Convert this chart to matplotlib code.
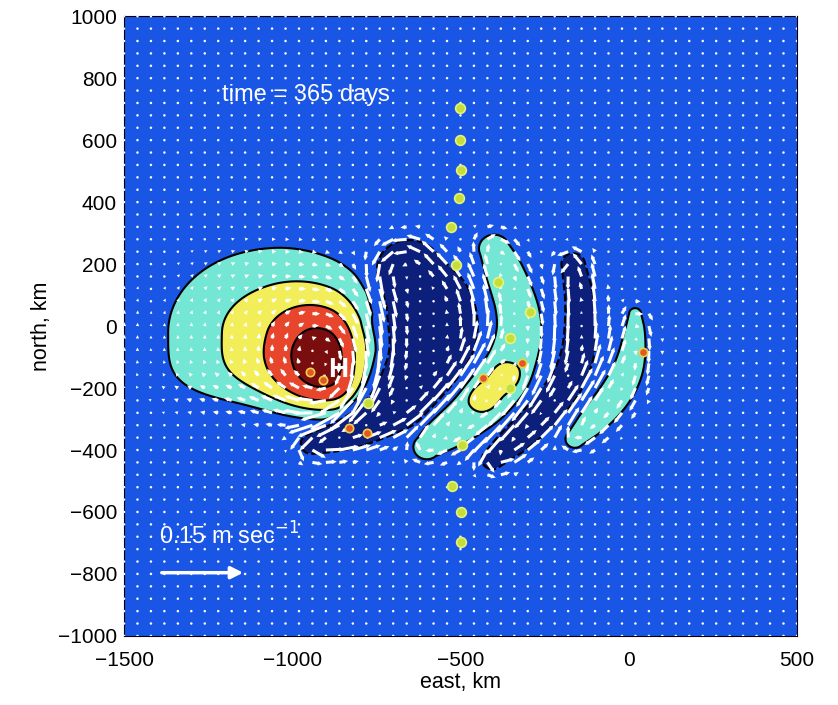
import matplotlib.pyplot as plt
import numpy as np
from matplotlib.colors import ListedColormap, BoundaryNorm

plt.rcParams['font.family'] = ['Liberation Sans', 'DejaVu Sans']

# surface height anomaly, built from features (km)
# warm eddy: broad lobe and sharp core (centre, height, west/east/north/south radii)
eddy_x = [-1060, -888]
eddy_y = [-20, -110]
eddy_amp = [2.4, 2.9]
eddy_rw = [330, 160]
eddy_re = [280, 115]
eddy_rn = [285, 200]
eddy_rs = [235, 180]

# crescent ridges: centre lines and half widths
n1_x = [-655, -590, -595, -672, -765, -852, -942]
n1_y = [175, 50, -100, -220, -300, -352, -380]
n1_w = [105, 151, 135, 110, 75, 52, 33]

c1_x = [-400, -370, -318, -343, -412, -520, -600]
c1_y = [250, 180, 19, -110, -218, -315, -390]
c1_w = [45, 58, 66, 72, 85, 75, 40]

n2_x = [-165, -140, -150, -225, -330, -405]
n2_y = [200, 60, -120, -250, -358, -430]
n2_w = [35, 45, 50, 52, 50, 32]

c2_x = [19, 19, 4, -36, -100, -160]
c2_y = [40, -24, -132, -218, -300, -365]
c2_w = [18, 32, 45, 50, 46, 28]

ridge_amp = [-3.0, 1.7, -2.5, 1.9]

# yellow patch inside the second crescent
blob_x = [-432, -362]
blob_y = [-230, -165]
blob_amp = [0.7, 0.7]
blob_r = [52, 52]

# floats
green_x = [-501, -501, -499, -503, -528, -513, -388, -293, -353, -353, -496, -526, -499, -499, -775]
green_y = [703, 600, 503, 413, 319, 197, 143, 46, -40, -200, -384, -516, -599, -696, -248]
orange_x = [-318, -434, -947, -909, -831, -778, 42]
orange_y = [-118, -169, -147, -174, -329, -344, -83]

levels = [-10, -1, 1, 2, 3, 4, 10]
colors = ['#0c1f7a', '#1a56e6', '#74e6d4', '#f2ee5a', '#e8452d', '#7a0d0d']


def smooth_line(px, py, pw, n=4):
    p = np.column_stack([px, py, pw]).astype(float)
    for _ in range(n):
        q = 0.75*p[:-1] + 0.25*p[1:]
        r = 0.25*p[:-1] + 0.75*p[1:]
        mid = np.empty((2*len(q), 3))
        mid[0::2] = q
        mid[1::2] = r
        p = np.vstack([p[:1], mid, p[-1:]])
    return p[:, 0], p[:, 1], p[:, 2]


def ridge(X, Y, px, py, pw, amp):
    px, py, pw = smooth_line(px, py, pw)
    best = np.full(X.shape, np.inf)
    wbest = np.ones(X.shape)
    for i in range(len(px) - 1):
        dx, dy = px[i+1] - px[i], py[i+1] - py[i]
        t = ((X - px[i])*dx + (Y - py[i])*dy) / (dx*dx + dy*dy + 1e-9)
        t = np.clip(t, 0, 1)
        d = np.hypot(X - px[i] - t*dx, Y - py[i] - t*dy)
        w = pw[i] + t*(pw[i+1] - pw[i])
        m = d < best
        best[m] = d[m]
        wbest[m] = w[m]
    return amp*np.exp(-np.log(abs(amp))*(best/wbest)**4)


def field(X, Y):
    f = np.zeros_like(X, dtype=float)
    for i in range(len(eddy_x)):
        dx = X - eddy_x[i]
        dy = Y - eddy_y[i]
        ex = (dx/np.where(dx < 0, eddy_rw[i], eddy_re[i]))**2
        ey_n = (dy/eddy_rn[i])**2
        ey_s = (dy/eddy_rs[i])**4
        f += eddy_amp[i]*np.exp(-ex - np.where(dy > 0, ey_n, ey_s))
    for x0, y0, a, r in zip(blob_x, blob_y, blob_amp, blob_r):
        f += a*np.exp(-((X - x0)**2 + (Y - y0)**2)/r**2)
    for (rx_, ry_, rw_), a in zip([(n1_x, n1_y, n1_w), (c1_x, c1_y, c1_w),
                                   (n2_x, n2_y, n2_w), (c2_x, c2_y, c2_w)], ridge_amp):
        f += ridge(X, Y, rx_, ry_, rw_, a)
    return f


xf = np.linspace(-1500, 500, 401)
yf = np.linspace(-1000, 1000, 401)
XF, YF = np.meshgrid(xf, yf)
F = field(XF, YF)

# currents from a smoothed copy of the field, on a 40 km grid
k = np.arange(-24, 25)
kern = np.exp(-0.5*(k/6.0)**2)
kern /= kern.sum()
S = np.apply_along_axis(lambda r: np.convolve(r, kern, mode='same'), 1, F)
S = np.apply_along_axis(lambda c: np.convolve(c, kern, mode='same'), 0, S)
gy, gx = np.gradient(S, yf, xf)
step = 8
XQ, YQ = XF[::step, ::step], YF[::step, ::step]
U = -1.0*gy[::step, ::step]
V = 1.0*gx[::step, ::step]

fig = plt.figure(figsize=(8.38, 7.05), dpi=100)
ax = fig.add_axes([0.148, 0.098, 0.803, 0.879])

cmap = ListedColormap(colors)
norm = BoundaryNorm(levels, cmap.N)
ax.contourf(XF, YF, F, levels=levels, cmap=cmap, norm=norm)
ax.contour(XF, YF, F, levels=[-1, 1, 2, 3, 4], colors='k', linewidths=1.5)

key_len = 87/673
ax.quiver(XQ, YQ, U, V, color='white', scale=0.15/key_len, scale_units='width',
          width=0.0045, headwidth=1.5, headlength=1.5, headaxislength=1.5,
          minlength=0.9, zorder=3)

ax.plot(green_x, green_y, 'o', ms=7, mfc='#c5de3a', mec='#e6f27a', mew=1.2, zorder=4)
ax.plot(orange_x, orange_y, 'o', ms=6, mfc='#e0582a', mec='#f0d040', mew=1.2, zorder=4)

ax.text(-864, -142, 'H', color='white', fontsize=20, fontweight='bold',
        ha='center', va='center', zorder=5)
ax.text(0.146, 0.873, 'time = 365 days', color='white', fontsize=17,
        transform=ax.transAxes, va='center', zorder=5)
ax.text(0.052, 0.14, '0.15 m sec$^{-1}$', color='white', fontsize=17,
        transform=ax.transAxes, va='bottom', zorder=5)
ax.annotate('', xy=(0.052 + key_len, 0.102), xytext=(0.052, 0.102),
            xycoords='axes fraction',
            arrowprops=dict(arrowstyle='-|>', color='white', lw=2.5,
                            mutation_scale=18), zorder=5)

ax.set_xlim(-1500, 500)
ax.set_ylim(-1000, 1000)
ax.set_xticks([-1500, -1000, -500, 0, 500])
ax.set_yticks(np.arange(-1000, 1001, 200))
ax.tick_params(direction='in', labelsize=15, length=0)
ax.tick_params(axis='x', pad=11)
ax.tick_params(axis='y', pad=5)
ax.set_xlabel('east, km', fontsize=15.5, labelpad=1)
ax.set_ylabel('north, km', fontsize=15.5, labelpad=4)

fig.savefig('out.png', dpi=100)
